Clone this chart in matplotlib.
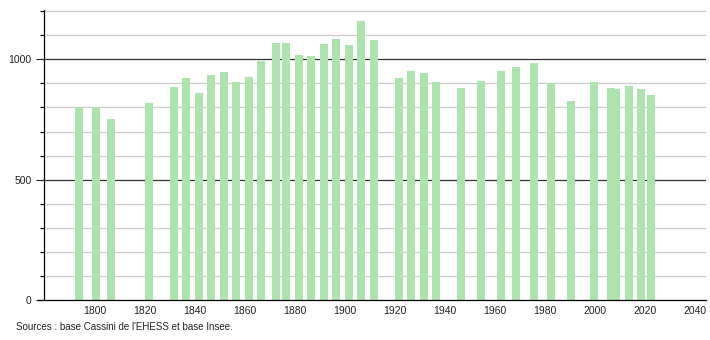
import matplotlib
matplotlib.use("Agg")
import matplotlib.pyplot as plt
from matplotlib.ticker import MultipleLocator

years = [1793, 1800, 1806, 1821, 1831, 1836, 1841, 1846, 1851, 1856,
         1861, 1866, 1872, 1876, 1881, 1886, 1891, 1896, 1901, 1906,
         1911, 1921, 1926, 1931, 1936, 1946, 1954, 1962, 1968, 1975,
         1982, 1990, 1999, 2006, 2008, 2013, 2018, 2022]
population = [800, 800, 752, 817, 884, 922, 859, 935, 949, 906,
              926, 993, 1066, 1066, 1016, 1014, 1064, 1083, 1059, 1159,
              1080, 922, 951, 944, 906, 882, 910, 951, 967, 985,
              900, 827, 906, 882, 875, 889, 877, 852]
x_ticks = [1800, 1820, 1840, 1860, 1880, 1900, 1920, 1940, 1960, 1980, 2000, 2020, 2040]
y_major = [0, 500, 1000]
source_text = "Sources : base Cassini de l'EHESS et base Insee."

plt.rcParams['font.family'] = ['Liberation Sans', 'DejaVu Sans']

fig = plt.figure(figsize=(7.1, 3.4), dpi=100)
ax = fig.add_axes([44/710, 1 - 300/340, (706 - 44)/710, 290/340])

# grid lines
for v in range(100, 1201, 100):
    if v % 500 == 0:
        ax.axhline(v, color='#333333', lw=0.9, zorder=1)
    else:
        ax.axhline(v, color='#cccccc', lw=0.9, zorder=1)

ax.bar([y + 0.5 for y in years], population, width=3.2, color='#ade3ad', zorder=2, linewidth=0)

ax.set_xlim(1779.7, 2044.5)
ax.set_ylim(0, 1205)

ax.set_xticks(x_ticks)
ax.set_xticklabels([str(t) for t in x_ticks])
ax.set_yticks(y_major)
ax.yaxis.set_minor_locator(MultipleLocator(100))

ax.tick_params(axis='x', length=0, pad=4, labelsize=7.5, colors='#222222')
ax.tick_params(axis='y', which='major', length=6, width=0.8, pad=3, labelsize=7.5, colors='#222222')
ax.tick_params(axis='y', which='minor', length=3, width=0.8)

for s in ['top', 'right']:
    ax.spines[s].set_visible(False)
ax.spines['left'].set_color('black')
ax.spines['left'].set_linewidth(0.9)
ax.spines['bottom'].set_color('black')
ax.spines['bottom'].set_linewidth(0.9)
ax.spines['bottom'].set_bounds(1777.3, 2044.5)

fig.text(16/710, 1 - 327/340, source_text, fontsize=7, color='#222222', va='center', ha='left')

fig.savefig('out.png', dpi=100)
